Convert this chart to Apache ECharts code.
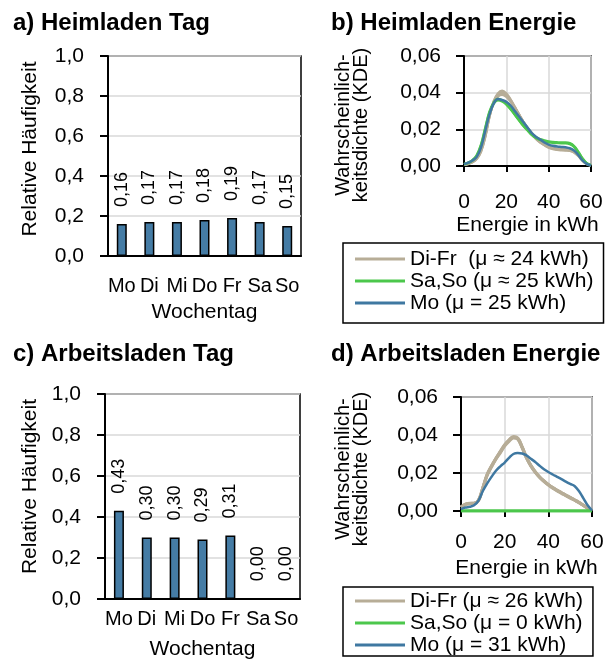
<!DOCTYPE html>
<html>
<head>
<meta charset="utf-8">
<script src="https://cdn.jsdelivr.net/npm/echarts@6/dist/echarts.min.js"></script>
<style>
  html, body { margin: 0; padding: 0; background: #ffffff; }
  #chart { width: 606px; height: 666px; }
</style>
</head>
<body>
<div id="chart"></div>
<script>
// Wochentage + relative Häufigkeit der Ladevorgänge
const weekdays = ['Mo', 'Di', 'Mi', 'Do', 'Fr', 'Sa', 'So'];
const homeShare = [0.16, 0.17, 0.17, 0.18, 0.19, 0.17, 0.15];
const workShare = [0.43, 0.30, 0.30, 0.29, 0.31, 0.00, 0.00];

// KDE der Ladeenergie, Stützstellen in kWh
const energyKwh = [0, 2, 4, 6, 8, 10, 12, 14, 16, 18, 20, 22, 24, 26, 28, 30,
  32, 34, 36, 38, 40, 42, 44, 46, 48, 50, 52, 54, 56, 58, 60];

// b) Heimladen
const homeDi = [0.0008, 0.0012, 0.0022, 0.004, 0.008, 0.016, 0.027, 0.035, 0.039, 0.0405, 0.039, 0.036, 0.032, 0.028, 0.024, 0.0205,
  0.0175, 0.015, 0.013, 0.0115, 0.0102, 0.0094, 0.009, 0.0088, 0.0087, 0.0085, 0.0076, 0.0056, 0.003, 0.0012, 0.0004];
const homeMi = [0.0008, 0.0013, 0.0023, 0.0042, 0.0085, 0.0165, 0.0272, 0.0345, 0.0385, 0.0396, 0.0383, 0.0355, 0.0318, 0.0279, 0.0241, 0.0207,
  0.0178, 0.0153, 0.0133, 0.0118, 0.0105, 0.0097, 0.0092, 0.009, 0.0089, 0.0087, 0.0078, 0.0057, 0.0031, 0.0012, 0.0004];
const homeDo = [0.0007, 0.0011, 0.0021, 0.0038, 0.0078, 0.0158, 0.0268, 0.0352, 0.0395, 0.041, 0.0395, 0.0362, 0.0322, 0.0281, 0.024, 0.0204,
  0.0173, 0.0148, 0.0128, 0.0113, 0.01, 0.0092, 0.0088, 0.0086, 0.0085, 0.0083, 0.0074, 0.0055, 0.003, 0.0012, 0.0004];
const homeFr = [0.0009, 0.0014, 0.0024, 0.0043, 0.0088, 0.017, 0.0275, 0.0342, 0.0378, 0.0388, 0.0378, 0.0352, 0.0317, 0.0279, 0.0242, 0.0209,
  0.018, 0.0155, 0.0135, 0.012, 0.0107, 0.0099, 0.0094, 0.0092, 0.0091, 0.0088, 0.0079, 0.0058, 0.0032, 0.0013, 0.0004];
const homeSa = [0.001, 0.0017, 0.003, 0.0055, 0.011, 0.02, 0.029, 0.034, 0.0358, 0.0352, 0.0335, 0.031, 0.028, 0.025, 0.022, 0.0195,
  0.017, 0.0153, 0.0142, 0.0134, 0.013, 0.0127, 0.0125, 0.0124, 0.0124, 0.012, 0.0105, 0.0075, 0.004, 0.0015, 0.0004];
const homeSo = [0.0011, 0.0018, 0.0032, 0.0058, 0.0115, 0.0205, 0.0295, 0.0346, 0.0365, 0.0358, 0.034, 0.0313, 0.0282, 0.0251, 0.0221, 0.0196,
  0.0172, 0.0156, 0.0146, 0.0139, 0.0134, 0.0131, 0.0129, 0.0128, 0.0128, 0.0124, 0.0108, 0.0077, 0.0041, 0.0015, 0.0004];
const homeMo = [0.001, 0.0018, 0.003, 0.005, 0.01, 0.019, 0.028, 0.034, 0.0366, 0.036, 0.035, 0.033, 0.03, 0.027, 0.024, 0.021,
  0.018, 0.016, 0.0145, 0.0128, 0.0117, 0.011, 0.0106, 0.0104, 0.0102, 0.0097, 0.0085, 0.006, 0.003, 0.0012, 0.0003];

// d) Arbeitsladen
const workDi = [0.002, 0.0035, 0.004, 0.004, 0.0055, 0.012, 0.019, 0.0235, 0.0275, 0.031, 0.0345, 0.037, 0.0388, 0.038, 0.0335, 0.028,
  0.0238, 0.0205, 0.0178, 0.0157, 0.0138, 0.0122, 0.0108, 0.0095, 0.0082, 0.007, 0.0058, 0.0045, 0.003, 0.0015, 0.0002];
const workMi = [0.0021, 0.0036, 0.0041, 0.0041, 0.0056, 0.0122, 0.0192, 0.0238, 0.0278, 0.0314, 0.0349, 0.0374, 0.0392, 0.0384, 0.0338, 0.0283,
  0.024, 0.0207, 0.018, 0.0159, 0.014, 0.0124, 0.011, 0.0097, 0.0084, 0.0072, 0.0059, 0.0046, 0.0031, 0.0015, 0.0002];
const workDo = [0.0019, 0.0034, 0.0039, 0.004, 0.0054, 0.0118, 0.0188, 0.0232, 0.0272, 0.0306, 0.0341, 0.0366, 0.0384, 0.0377, 0.0332, 0.0278,
  0.0236, 0.0203, 0.0176, 0.0155, 0.0136, 0.012, 0.0106, 0.0093, 0.008, 0.0068, 0.0057, 0.0044, 0.0029, 0.0014, 0.0002];
const workFr = [0.002, 0.0035, 0.004, 0.0041, 0.0057, 0.0123, 0.0193, 0.0237, 0.0276, 0.0311, 0.0346, 0.0371, 0.039, 0.0383, 0.0337, 0.0282,
  0.0239, 0.0206, 0.0179, 0.0158, 0.0139, 0.0123, 0.0109, 0.0096, 0.0083, 0.0071, 0.0058, 0.0045, 0.003, 0.0015, 0.0002];
const workSa = [0, 0, 0, 0, 0, 0, 0, 0, 0, 0, 0, 0, 0, 0, 0, 0, 0, 0, 0, 0, 0, 0, 0, 0, 0, 0, 0, 0, 0, 0, 0];
const workSo = [0, 0, 0, 0, 0, 0, 0, 0, 0, 0, 0, 0, 0, 0, 0, 0, 0, 0, 0, 0, 0, 0, 0, 0, 0, 0, 0, 0, 0, 0, 0];
const workMo = [0.001, 0.0018, 0.0022, 0.003, 0.0055, 0.0105, 0.0145, 0.018, 0.0212, 0.0235, 0.0255, 0.028, 0.03, 0.0305, 0.0303, 0.0293,
  0.0275, 0.0258, 0.0238, 0.022, 0.0205, 0.0192, 0.018, 0.0168, 0.0155, 0.0143, 0.0132, 0.0105, 0.0068, 0.003, 0.0003];

const homeLegend = ['Di-Fr  (μ ≈ 24 kWh)', 'Sa,So (μ ≈ 25 kWh)', 'Mo (μ = 25 kWh)'];
const workLegend = ['Di-Fr (μ ≈ 26 kWh)', 'Sa,So (μ = 0 kWh)', 'Mo (μ = 31 kWh)'];

const FONT = '"Liberation Sans", Arial, sans-serif';
const BEIGE = '#b7ad97';
const GREEN = '#4cc74c';
const BLUE = '#3f78a1';
const BAR = '#457ca5';
const GRID_GREY = '#d9d9d9';

const comma = (value, digits) => value.toFixed(digits).replace('.', ',');
const pairs = (values) => energyKwh.map((e, i) => [e, values[i]]);

const text = (size) => ({ color: '#000', fontSize: size, fontFamily: FONT });
const blackLine = { lineStyle: { color: '#000', width: 2 } };

function weekdayAxis(gridIndex, margin, nameGap) {
  return {
    type: 'category',
    gridIndex,
    data: weekdays,
    axisLine: blackLine,
    axisTick: { length: 6, lineStyle: { color: '#000', width: 2 } },
    axisLabel: { ...text(20), margin, interval: 0, hideOverlap: false },
    name: 'Wochentag',
    nameLocation: 'middle',
    nameGap,
    nameTextStyle: text(21)
  };
}

function shareAxis(gridIndex, nameGap, namePadding) {
  return {
    type: 'value',
    gridIndex,
    min: 0,
    max: 1,
    interval: 0.2,
    axisLine: { show: true, ...blackLine },
    axisTick: { show: true, length: 8, lineStyle: { color: '#000', width: 2 } },
    axisLabel: { ...text(21), margin: 24, formatter: (v) => comma(v, 1) },
    splitLine: { lineStyle: { color: GRID_GREY, width: 1.5 } },
    name: 'Relative Häufigkeit',
    nameLocation: 'middle',
    nameGap,
    nameTextStyle: { ...text(21), padding: namePadding }
  };
}

function energyAxis(gridIndex, margin, nameGap) {
  return {
    type: 'value',
    gridIndex,
    min: 0,
    max: 60,
    interval: 20,
    axisLine: blackLine,
    axisTick: { show: true, length: 6, lineStyle: { color: '#000', width: 2 } },
    axisLabel: { ...text(21), margin },
    splitLine: { show: true, lineStyle: { color: GRID_GREY, width: 1.5 } },
    name: 'Energie in kWh',
    nameLocation: 'middle',
    nameGap,
    nameTextStyle: text(21)
  };
}

function densityAxis(gridIndex, nameGap, namePadding) {
  return {
    type: 'value',
    gridIndex,
    min: 0,
    max: 0.06,
    interval: 0.02,
    axisLine: { show: true, ...blackLine },
    axisTick: { show: true, length: 8, lineStyle: { color: '#000', width: 2 } },
    axisLabel: { ...text(21), margin: 23, formatter: (v) => comma(v, 2) },
    splitLine: { lineStyle: { color: GRID_GREY, width: 1.5 } },
    name: 'Wahrscheinlich-\nkeitsdichte (KDE)',
    nameLocation: 'middle',
    nameGap,
    nameTextStyle: { ...text(20), lineHeight: 18, padding: namePadding }
  };
}

function shareBars(axisIndex, values) {
  return {
    type: 'bar',
    xAxisIndex: axisIndex,
    yAxisIndex: axisIndex,
    data: values,
    barWidth: 10,
    itemStyle: { color: BAR, borderColor: '#000', borderWidth: 1.5 },
    label: {
      show: true,
      position: 'top',
      rotate: 90,
      align: 'left',
      verticalAlign: 'middle',
      distance: 17,
      ...text(18),
      formatter: (p) => comma(p.value, 2)
    }
  };
}

function kdeLine(axisIndex, name, values, color, width) {
  return {
    type: 'line',
    name,
    xAxisIndex: axisIndex,
    yAxisIndex: axisIndex,
    data: pairs(values),
    smooth: 0.4,
    symbol: 'none',
    lineStyle: { color, width },
    itemStyle: { color }
  };
}

function frame(left, top, width, height) {
  return {
    left, top, width, height,
    outerBoundsMode: 'none',
    show: true,
    borderColor: '#000',
    borderWidth: 1.5
  };
}

// the lower box runs off the bottom edge like in the figure, so no bottom padding there
function legendBox(top, names, padding) {
  return {
    left: 343,
    top,
    orient: 'vertical',
    data: names,
    icon: 'rect',
    itemWidth: 50,
    itemHeight: 3,
    itemGap: 0,
    padding,
    borderColor: '#000',
    borderWidth: 1.5,
    backgroundColor: '#fff',
    textStyle: { ...text(21), lineHeight: 22 }
  };
}

const titleStyle = { color: '#000', fontSize: 24, fontWeight: 'bold', fontFamily: FONT };

const option = {
  animation: false,
  backgroundColor: '#ffffff',
  title: [
    { text: 'a) Heimladen Tag', left: 8, top: 6, textStyle: titleStyle },
    { text: 'b) Heimladen Energie', left: 326, top: 6, textStyle: titleStyle },
    { text: 'c) Arbeitsladen Tag', left: 8, top: 337, textStyle: titleStyle },
    { text: 'd) Arbeitsladen Energie', left: 326, top: 337, textStyle: titleStyle }
  ],
  grid: [
    frame(108, 56, 193, 200),
    frame(464, 56, 127, 110),
    frame(105, 394, 195, 205),
    frame(461, 397, 131, 114)
  ],
  xAxis: [
    weekdayAxis(0, 20, 46),
    energyAxis(1, 26, 49),
    weekdayAxis(2, 10, 40),
    energyAxis(3, 21, 47)
  ],
  yAxis: [
    shareAxis(0, 67, [0, 0, 0, 14]),
    densityAxis(1, 94, [0, 28, 0, 0]),
    shareAxis(2, 64, [0, 0, 0, 20]),
    densityAxis(3, 91, [0, 30, 0, 0])
  ],
  legend: [
    legendBox(243, homeLegend, [5, 10, 9, 12]),
    legendBox(587, workLegend, [3, 10, 0, 12])
  ],
  series: [
    shareBars(0, homeShare),
    kdeLine(1, homeLegend[0], homeDi, BEIGE, 2.5),
    kdeLine(1, homeLegend[0], homeMi, BEIGE, 2.5),
    kdeLine(1, homeLegend[0], homeDo, BEIGE, 2.5),
    kdeLine(1, homeLegend[0], homeFr, BEIGE, 2.5),
    kdeLine(1, homeLegend[1], homeSa, GREEN, 2.5),
    kdeLine(1, homeLegend[1], homeSo, GREEN, 2.5),
    kdeLine(1, homeLegend[2], homeMo, BLUE, 2.5),
    shareBars(2, workShare),
    kdeLine(3, workLegend[0], workDi, BEIGE, 3),
    kdeLine(3, workLegend[0], workMi, BEIGE, 3),
    kdeLine(3, workLegend[0], workDo, BEIGE, 3),
    kdeLine(3, workLegend[0], workFr, BEIGE, 3),
    kdeLine(3, workLegend[1], workSa, GREEN, 3),
    kdeLine(3, workLegend[1], workSo, GREEN, 3),
    kdeLine(3, workLegend[2], workMo, BLUE, 2.5)
  ]
};

const chart = echarts.init(document.getElementById('chart'));
chart.setOption(option);
</script>
</body>
</html>
